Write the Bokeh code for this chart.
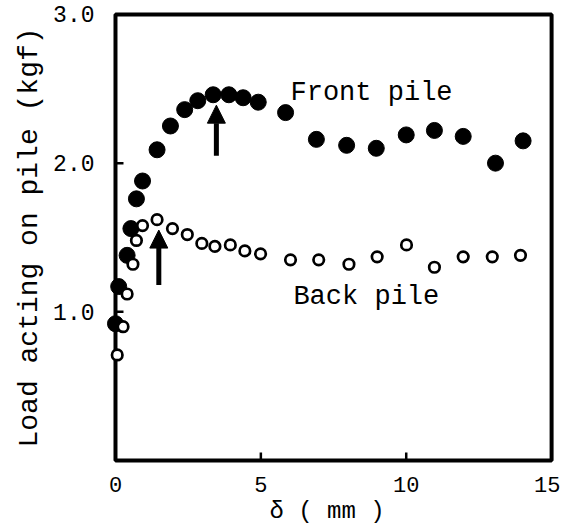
import math
from bokeh.plotting import figure
from bokeh.models import (Range1d, FixedTicker, Label, Arrow, NormalHead,
                          ColumnDataSource, NumeralTickFormatter)
from bokeh.embed import file_html
from bokeh.resources import INLINE

# ---- data ----
front_x = [0.0, 0.11, 0.40, 0.53, 0.72, 0.93, 1.43, 1.89, 2.38, 2.83, 3.36, 3.90,
           4.39, 4.91, 5.85, 6.91, 7.95, 8.97, 10.0, 10.97, 11.96, 13.07, 14.02]
front_y = [0.92, 1.17, 1.38, 1.56, 1.76, 1.88, 2.09, 2.25, 2.36, 2.42, 2.46, 2.46,
           2.44, 2.41, 2.34, 2.16, 2.12, 2.10, 2.19, 2.22, 2.18, 2.00, 2.15]
back_x = [0.06, 0.26, 0.40, 0.60, 0.72, 0.93, 1.43, 1.96, 2.47, 2.97, 3.42, 3.95,
          4.45, 4.99, 6.02, 6.99, 8.03, 9.0, 10.01, 10.97, 11.96, 12.96, 13.93]
back_y = [0.71, 0.90, 1.12, 1.32, 1.48, 1.58, 1.62, 1.56, 1.52, 1.46, 1.44, 1.45,
          1.41, 1.39, 1.35, 1.35, 1.32, 1.37, 1.45, 1.30, 1.37, 1.37, 1.38]

# peak markers (arrows)
arrow_x = [3.47, 1.49]
arrow_y_tail = [2.05, 1.18]
arrow_y_tip = [2.39, 1.55]

# axes
X_MIN, X_MAX = 0, 15
Y_MIN, Y_MAX = 0, 3
x_ticks = [0, 5, 10, 15]
y_ticks = [1, 2, 3]

FONT = "Liberation Mono"

p = figure(width=560, height=527, output_backend="svg", toolbar_location=None,
           x_range=Range1d(X_MIN - 0.55, X_MAX + 0.1),
           y_range=Range1d(Y_MIN - 0.02, Y_MAX + 0.02),
           min_border_left=99, min_border_right=6, min_border_top=11,
           min_border_bottom=61)
p.background_fill_color = "white"
p.border_fill_color = "white"
p.grid.visible = False
p.outline_line_color = None

for ax in (p.xaxis[0], p.yaxis[0]):
    ax.axis_line_color = None
    ax.major_tick_line_color = None
    ax.minor_tick_line_color = None
    ax.major_tick_in = 0
    ax.major_tick_out = 0
    ax.major_label_text_font = FONT
    ax.major_label_text_color = "black"
    ax.axis_label_text_font = FONT
    ax.axis_label_text_font_style = "normal"
    ax.axis_label_text_color = "black"

p.xaxis.ticker = FixedTicker(ticks=x_ticks)
p.xaxis.major_label_text_font_size = "22px"
p.xaxis.major_label_standoff = 13
p.xaxis.axis_label = "\u03b4 ( mm )"
p.xaxis.axis_label_text_font_size = "24px"
p.xaxis.axis_label_standoff = 3

p.yaxis.ticker = FixedTicker(ticks=y_ticks)
p.yaxis.formatter = NumeralTickFormatter(format="0.0")
p.yaxis.major_label_text_font_size = "23px"
p.yaxis.major_label_standoff = 5
p.yaxis.axis_label = "Load acting on pile (kgf)"
p.yaxis.axis_label_text_font_size = "28px"
p.yaxis.axis_label_standoff = 5

# plot box and inward tick marks
p.quad(left=X_MIN, right=X_MAX, bottom=Y_MIN, top=Y_MAX, fill_color=None,
       line_color="black", line_width=4)
inner_x = [t for t in x_ticks if X_MIN < t < X_MAX]
inner_y = [t for t in y_ticks if Y_MIN < t < Y_MAX]
p.ray(x=inner_x, y=[Y_MIN] * len(inner_x), length=8, length_units="screen",
      angle=math.pi / 2, line_color="black", line_width=2.5)
p.ray(x=[X_MIN] * len(inner_y), y=inner_y, length=8, length_units="screen",
      angle=0, line_color="black", line_width=2.5)

# data
p.scatter(front_x, front_y, size=16, marker="circle", fill_color="black",
          line_color="black")
p.scatter(back_x, back_y, size=10.5, marker="circle", fill_color="white",
          line_color="black", line_width=2.7)

arrows = ColumnDataSource(dict(x=arrow_x, y0=arrow_y_tail, y1=arrow_y_tip))
p.add_layout(Arrow(end=NormalHead(size=18, fill_color="black", line_color="black"),
                   x_start="x", y_start="y0", x_end="x", y_end="y1",
                   line_width=5, line_color="black", source=arrows))

p.add_layout(Label(x=6.02, y=2.47, text="Front pile", text_baseline="middle",
                   text_font=FONT, text_font_size="27px", text_color="black"))
p.add_layout(Label(x=6.12, y=1.10, text="Back pile", text_baseline="middle",
                   text_font=FONT, text_font_size="27px", text_color="black"))

open("out.html", "w").write(file_html(p, INLINE))
